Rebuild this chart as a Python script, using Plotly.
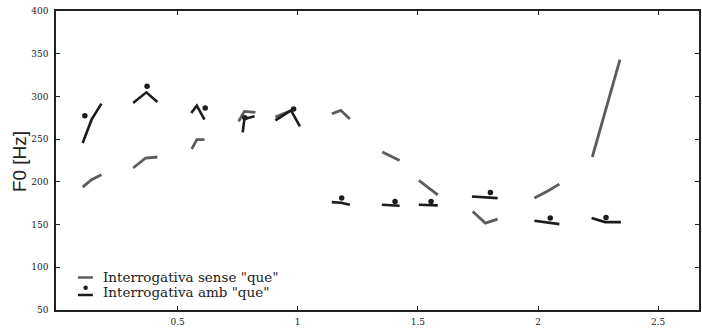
import plotly.graph_objects as go

# Series 1: "Interrogativa sense "que"" (grey contour segments, None = gap)
sense_x = [0.105, 0.142, 0.183, None,
           0.315, 0.367, 0.416, None,
           0.559, 0.580, 0.612, None,
           0.754, 0.778, 0.824, None,
           0.907, 0.965, None,
           1.142, 1.179, 1.217, None,
           1.352, 1.424, None,
           1.504, 1.583, None,
           1.728, 1.781, 1.832, None,
           1.985, 2.037, 2.089, None,
           2.226, 2.341]
sense_y = [193.9, 202.5, 208.3, None,
           216.2, 227.9, 229.1, None,
           238.5, 249.4, 249.4, None,
           270.8, 282.5, 281.4, None,
           276.0, 282.5, None,
           279.8, 283.7, 273.6, None,
           235.0, 225.1, None,
           201.6, 184.9, None,
           165.3, 151.7, 156.4, None,
           181.0, 188.7, 197.4, None,
           229.1, 343.1]

# Series 2: "Interrogativa amb "que"" (black contour segments)
amb_x = [0.105, 0.142, 0.183, None,
         0.315, 0.370, 0.416, None,
         0.557, 0.580, 0.612, None,
         0.771, 0.778, 0.820, None,
         0.907, 0.972, 1.009, None,
         1.142, 1.180, 1.217, None,
         1.350, 1.424, None,
         1.504, 1.583, None,
         1.725, 1.832, None,
         1.985, 2.040, 2.089, None,
         2.223, 2.279, 2.345]
amb_y = [245.5, 272.8, 291.6, None,
         292.4, 304.8, 293.6, None,
         280.7, 289.2, 272.8, None,
         257.9, 273.6, 276.7, None,
         272.0, 283.7, 265.0, None,
         176.3, 175.5, 173.2, None,
         173.2, 172.0, None,
         173.2, 172.5, None,
         182.9, 181.0, None,
         154.4, 152.5, 150.5, None,
         157.6, 152.9, 152.9]

# Series 2 target points (dots)
dot_x = [0.114, 0.373, 0.615, 0.780, 0.983, 1.183, 1.405, 1.555, 1.802, 2.051, 2.283]
dot_y = [277.5, 311.8, 286.5, 275.0, 285.3, 181.0, 177.0, 177.0, 187.6, 157.6, 158.3]

x_ticks = [0.5, 1, 1.5, 2, 2.5]
x_ticklabels = ["0.5", "1", "1.5", "2", "2.5"]
y_ticks = [50, 100, 150, 200, 250, 300, 350, 400]

legend_labels = ['Interrogativa sense "que"', 'Interrogativa amb "que"']

GREY = "#5c5c5c"
BLACK = "#1c1c1c"

fig = go.Figure()
fig.add_trace(go.Scatter(x=sense_x, y=sense_y, mode="lines",
                         line=dict(color=GREY, width=2.8), connectgaps=False,
                         showlegend=False, hoverinfo="skip"))
fig.add_trace(go.Scatter(x=amb_x, y=amb_y, mode="lines",
                         line=dict(color=BLACK, width=2.6), connectgaps=False,
                         showlegend=False, hoverinfo="skip"))
fig.add_trace(go.Scatter(x=dot_x, y=dot_y, mode="markers",
                         marker=dict(color=BLACK, size=5.5, line=dict(width=0)),
                         showlegend=False, hoverinfo="skip"))

SERIF = "DejaVu Serif, Liberation Serif, serif"

axis_common = dict(showline=True, linecolor="#222222", linewidth=1.5, mirror="allticks",
                   ticks="inside", ticklen=4, tickwidth=1.2, tickcolor="#222222",
                   showgrid=False, zeroline=False,
                   tickfont=dict(family=SERIF, size=9, color="#222222"))

# Plot area in pixels: left 56, right 701, top 11, bottom 310
L, R, T, B = 56, 1, 11, 18
W, H = 702, 328
pw, ph = W - L - R, H - T - B

def px_x(px):
    return (px - L) / pw

def px_y(py):
    return 1 - (py - T) / ph

fig.update_layout(
    width=W, height=H,
    margin=dict(l=L, r=R, t=T, b=B),
    paper_bgcolor="white", plot_bgcolor="white",
    xaxis=dict(range=[-0.006, 2.670], tickvals=x_ticks, ticktext=x_ticklabels,
               ticklabelstandoff=2, **axis_common),
    yaxis=dict(range=[50, 400], tickvals=y_ticks, ticklabelstandoff=4, **axis_common),
    showlegend=False,
)

# y-axis title
fig.add_annotation(text="F0 [Hz]", xref="paper", yref="paper",
                   x=px_x(19), y=px_y(162), textangle=-90, showarrow=False,
                   font=dict(family="Liberation Sans, Arial, sans-serif", size=19, color="#222222"),
                   xanchor="center", yanchor="middle")

# custom legend
fig.add_shape(type="line", xref="paper", yref="paper",
              x0=px_x(78), x1=px_x(93), y0=px_y(277.5), y1=px_y(277.5),
              line=dict(color=GREY, width=2.5))
fig.add_shape(type="line", xref="paper", yref="paper",
              x0=px_x(78), x1=px_x(93), y0=px_y(295), y1=px_y(295),
              line=dict(color=BLACK, width=2.5))
fig.add_shape(type="circle", xref="paper", yref="paper",
              x0=px_x(83.5), x1=px_x(88), y0=px_y(285.5), y1=px_y(290),
              fillcolor=BLACK, line=dict(width=0))
for lbl, yy in zip(legend_labels, [276.5, 291.5]):
    fig.add_annotation(text=lbl, xref="paper", yref="paper",
                       x=px_x(101), y=px_y(yy), showarrow=False,
                       xanchor="left", yanchor="middle",
                       font=dict(family=SERIF, size=13.5, color="#222222"))

fig.write_html("out.html")
